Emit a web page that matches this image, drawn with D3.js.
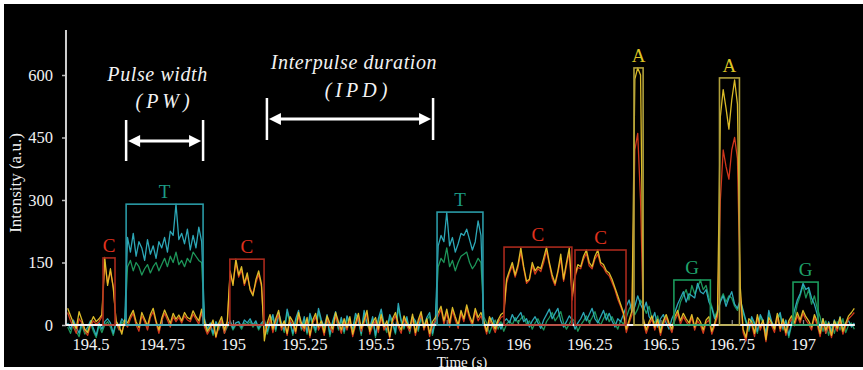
<!DOCTYPE html>
<html>
<head>
<meta charset="utf-8">
<script src="https://cdn.jsdelivr.net/npm/d3@7"></script>
<style>
html, body { margin: 0; padding: 0; background: #fff; }
svg { display: block; }
svg text { font-family: "Liberation Serif", "DejaVu Serif", serif !important; }
</style>
</head>
<body>
<div id="chart"></div>
<script>
const w = 863, h = 370;

// traces sampled every 0.01 s starting at t0
const t0 = 194.42, dt = 0.01;

const yellowTrace = [
	40, 22, 5, -8, 32, 12, -10, -18, 4, 20, 8, 15, 25,
	162, 95, 135, 88,
	8, -2, -22, 12,
	5, 22, 35, 8, -6, 30, 14, -2, 25, 40, 10, -12, 16, 36, 20, 4, 28, 14, 24, 10, 30, 18, 14, 34, 20, 10, 38,
	8, -15, -5, 12, -28, 4, 20, -12, 10,
	130, 95, 158, 120, 140, 100, 125, 84, 70, 108, 130, 98,
	-38, 5, 25, -10, 15, 35, -5, 10, -20, 20, 8, -15, 30, 5, -8, 18, -25, 12, 28, -5,
	10, -18, 22, 4, -10, 30, 8, -12, 15, -6, 20, -22, 5, 28, -8, 12, 35, -15, 6, 18,
	-10, 25, -4, 10, -28, 15, 30, 2, -12, 22, 5, -8, 26, -18, 12, 32, -6, 15, -20, 8, 18,
	30, 45, 10, 38, 5, 42, 20, 0, 35, 15, 48, 22, 5, 40, 18, 30,
	10, -15, 20, 5, -10, 12, 25, 30,
	110, 130, 150, 120, 145, 185, 140, 105, 110, 150, 130, 140, 135, 160, 187, 150, 120, 100, 130, 170, 110, 150, 185,
	70,
	120, 145, 140, 165, 180, 150, 140, 165, 180, 150, 145, 130, 125, 110, 90, 70, 50, 30,
	-10, 12, 35,
	590, 617, 600,
	15, -12, 8, 22, -5, 14, -18, 10, 25, 5, -10,
	20, 35, 10, 28, 15, 5, 25, -5, 18, 8, -12, 12, 20,
	-15, 5, 30,
	500, 565, 520, 470, 540, 588, 530,
	90, -10, -30, 15, 8, -20, 25, -5, 12, -35, 18, 5, -10, 28, -8, 15, -18, 10, 22,
	5, 30, 12, 35, 20, 10, -5, 25, 8,
	-20, 15, -12, 5, -25, 10, -8, 18, -15, 5, 22, 30, 40
];

const redTrace = [
	30, 10, -5, -20, 15, 5, -15, -25, -2, 10, 2, 8, 20,
	150, 100, 128, 92,
	5, -10, -15, 5,
	-5, 15, 28, 0, -15, 22, 8, -12, 18, 32, 5, -20, 10, 28, 12, -5, 20, 8, 18, 5, 22, 12, 8, 26, 14, 2, 30,
	-5, -22, -10, 5, -30, -5, 12, -20, 2,
	125, 100, 150, 115, 132, 95, 118, 88, 75, 100, 122, 92,
	-20, -5, 15, -18, 8, 25, -12, 5, -25, 12, 0, -20, 22, -2, -15, 10, -30, 5, 20, -12,
	2, -25, 15, -5, -18, 22, 0, -20, 8, -12, 12, -28, -2, 20, -15, 5, 28, -22, -2, 10,
	-18, 18, -12, 2, -32, 8, 22, -5, -20, 15, -2, -15, 18, -25, 5, 25, -12, 8, -28, 0, 10,
	22, 38, 2, 30, -5, 35, 12, -8, 28, 8, 40, 15, -2, 32, 10, 22,
	2, -22, 12, -2, -18, 5, 18, 22,
	100, 125, 142, 115, 138, 175, 135, 100, 108, 142, 122, 135, 128, 150, 178, 145, 112, 95, 125, 160, 105, 142, 175,
	60,
	115, 138, 135, 158, 172, 142, 135, 158, 170, 145, 138, 125, 118, 102, 85, 62, 45, 25,
	-18, 5, 25,
	420, 460, 300,
	5, -20, 0, 15, -12, 8, -25, 2, 18, -2, -18,
	12, 28, 2, 20, 8, -2, 18, -12, 10, 0, -20, 5, 12,
	-22, -2, 20,
	300, 420, 380, 350, 420, 450, 400,
	70, -18, -38, 8, 0, -28, 18, -12, 5, -40, 10, -2, -18, 20, -15, 8, -25, 2, 15,
	-2, 22, 5, 28, 12, 2, -12, 18, 0,
	-28, 8, -20, -2, -30, 2, -15, 10, -22, -2, 15, 22, 30
];

const tealTrace = [
	5, -10, 12, -5, -20, 8, -15, -5, 10, -8, -25, 5, -10,
	8, 15, 5, -20,
	10, -5, 15, 5,
	210, 175, 220, 165, 200, 185, 155, 205, 170, 190, 160, 200, 185, 210, 175, 225, 215, 290, 205, 220, 195, 230, 180, 215, 185, 235, 200,
	15, -10, 5, -20, 8, -5, 12, -15, 2,
	10, -8, 5, 8, -5, 12, 5, 15, 0, 10, -8, 5,
	12, -15, 8, 25, -10, 30, 5, -12, 38, 10, -20, 15, 35, -8, 20, -18, 28, 5, -12, 40,
	12, -5, 25, -22, 10, 32, -8, 18, -15, 22, 5, -10, 28, 12, -20, 35, 5, -8, 20, -25,
	15, 38, 2, -12, 25, 8, -18, 52, 12, -5, 20, -15, 20, 10, -10, 25, -5, 18, 30, -20, 12,
	190, 215, 200, 270, 190, 210, 175, 195, 220, 215, 230, 205, 180, 200, 250, 215,
	10, -15, 5, 18, -5, 12, -10, 8,
	15, 5, 25, 10, 20, 30, 8, 15, -5, 10, 20, 5, -8, 12, 25, 38, 15, 28, 40, 10, -5, 8, 22,
	12,
	-10, 5, 15, 30, 10, 25, 40, 15, 5, 20, 35, 12, 28, 10, -5, 15, 8, 25,
	45, 60, 30,
	45, 70, 50,
	35, 55, 20, 10, 30, -5, 15, 25, 5, -10, 15,
	30, 50, 65, 80, 55, 75, 70, 65, 100, 80, 75, 85, 55,
	40, 15, 30,
	55, 70, 45, 65, 80, 50, 40,
	60, 35, 10, -10, 20, 5, -15, 25, 10, -20, 35, 8, -5, 18, 30, -8, 12, -25, 5,
	35, 60, 75, 100, 85, 90, 65, 50, 25,
	-10, 15, -20, 8, -15, 12, -8, 20, -12, 5, 10, -5, 5
];

const greenTrace = [
	-5, -20, 5, -15, -28, 0, -22, -12, 5, -15, -30, -2, -18,
	0, 8, -5, -25,
	5, -12, 8, -2,
	140, 155, 130, 150, 140, 120, 135, 145, 125, 140, 150, 130, 145, 160, 140, 165, 150, 175, 145, 155, 140, 160, 150, 175, 165, 155, 150,
	5, -18, -2, -25, 2, -12, 8, -20, -5,
	5, -12, 0, 2, -10, 5, 0, 8, -5, 5, -12, 0,
	8, -22, 2, 18, -15, 22, 0, -18, 30, 5, -25, 8, 28, -12, 12, -22, 20, 0, -18, 32,
	5, -10, 18, -28, 5, 25, -12, 12, -20, 15, 0, -15, 20, 8, -25, 28, 0, -12, 15, -30,
	10, 30, -2, -18, 18, 2, -22, 40, 8, -10, 15, -20, 15, 5, -15, 18, -10, 12, 22, -25, 8,
	140, 160, 150, 185, 140, 155, 130, 150, 165, 170, 175, 150, 135, 145, 160, 150,
	20, 5, -20, 0, 12, -10, 8, -15,
	2, 10, 0, 18, 5, 15, 22, 2, 10, -10, 5, 15, 0, -12, 8, 18, 30, 10, 20, 32, 5, -10, 2,
	15,
	8, -15, 0, 10, 22, 5, 18, 32, 10, 0, 15, 28, 8, 20, 5, -10, 10, 2,
	18, 38, 50,
	25, 38, 60,
	45, 28, 45, 15, 5, 22, -10, 10, 18, 0, -15,
	10, 25, 55, 70, 85, 60, 95, 75, 90, 108, 85, 95, 65,
	45, 20, 35,
	60, 75, 55, 70, 65, 45, 35,
	55, 30, 5, -15, 15, 0, -20, 20, 5, -25, 28, 2, -10, 12, 25, -12, 8, -30, 0,
	15, 50, 70, 95, 65, 85, 50, 70, 40,
	20, -15, 10, -25, 2, -20, 8, -12, 15, -18, 0, 5, -10
];

// pulses (boxes)
const pulseBase = ["C", "T", "C", "T", "C", "C", "A", "G", "A", "G"];
const pulseStart = [194.544, 194.625, 194.989, 195.716, 195.951, 196.2, 196.407, 196.547, 196.707, 196.965];
const pulseEnd = [194.586, 194.895, 195.109, 195.877, 196.189, 196.379, 196.439, 196.675, 196.777, 197.053];
const pulseTop = [161, 290, 158, 271, 187, 180, 617, 108, 593, 103];

// PW / IPD annotations
const spanTitle = ["Pulse width", "Interpulse duration"];
const spanAbbr = ["(PW)", "(IPD)"];
const spanStart = [194.625, 195.119];
const spanEnd = [194.895, 195.702];

const xTicks = [194.5, 194.75, 195, 195.25, 195.5, 195.75, 196, 196.25, 196.5, 196.75, 197];
const xTickLabels = ["194.5", "194.75", "195", "195.25", "195.5", "195.75", "196", "196.25", "196.5", "196.75", "197"];
const yTicks = [0, 150, 300, 450, 600];
const xExtent = [194.414, 197.182];
const yAxisTop = 708;

const serif = '"Liberation Serif", "DejaVu Serif", serif';
const boxColor = { C: "#a8291c", T: "#2a9aa6", A: "#b0a03c", G: "#1b9a5c" };
const labelColor = { C: "#e2321e", T: "#1c9c84", A: "#dcc424", G: "#1fa46c" };

const svg = d3
	.select("#chart")
	.append("svg")
	.attr("width", w)
	.attr("height", h)
	.attr("font-family", serif);

svg.append("rect").attr("x", 4).attr("y", 4).attr("width", w - 4).attr("height", h - 7).attr("fill", "#000");

const xScale = d3.scaleLinear().domain([194.5, 197]).range([90.5, 803]);
const yScale = d3.scaleLinear().domain([0, 600]).range([325, 75]);

// y axis
const yAxisG = svg
	.append("g")
	.attr("transform", `translate(${xScale(xExtent[0])}, 0)`)
	.call(d3.axisLeft(yScale).tickValues(yTicks).tickSize(4).tickPadding(9))
	.attr("font-family", serif)
	.attr("font-size", 16.5);
yAxisG.select(".domain").remove();
yAxisG.selectAll(".tick line").attr("stroke", "#bbb").attr("stroke-width", 1.5);
yAxisG.selectAll(".tick text").attr("fill", "#f2f2f2");
svg.append("line")
	.attr("x1", xScale(xExtent[0])).attr("x2", xScale(xExtent[0]))
	.attr("y1", yScale(0)).attr("y2", yScale(yAxisTop))
	.attr("stroke", "#cfcfcf").attr("stroke-width", 2);

// x axis
const xAxisG = svg
	.append("g")
	.attr("transform", `translate(0, ${yScale(0)})`)
	.call(d3.axisBottom(xScale).tickValues(xTicks).tickFormat((d, i) => xTickLabels[i]).tickSize(-5).tickPadding(13))
	.attr("font-family", serif)
	.attr("font-size", 16.5);
xAxisG.select(".domain").remove();
xAxisG.selectAll(".tick line").attr("stroke", "#888").attr("stroke-width", 1.2);
xAxisG.selectAll(".tick text").attr("fill", "#f2f2f2");

// traces
const line = d3
	.line()
	.x((d, i) => xScale(t0 + i * dt))
	.y((d) => yScale(d));

const traces = [
	{ values: greenTrace, color: "#1f9d5e" },
	{ values: tealTrace, color: "#2eb0c0" },
	{ values: redTrace, color: "#dc3a1e" },
	{ values: yellowTrace, color: "#e6c42a" }
];
svg.append("g")
	.selectAll("path")
	.data(traces)
	.join("path")
	.attr("d", (d) => line(d.values))
	.attr("fill", "none")
	.attr("stroke", (d) => d.color)
	.attr("stroke-width", 1.3)
	.attr("stroke-linejoin", "round")
	.attr("opacity", 0.95);

// zero line
svg.append("line")
	.attr("x1", xScale(xExtent[0])).attr("x2", xScale(xExtent[1]))
	.attr("y1", yScale(0)).attr("y2", yScale(0))
	.attr("stroke", "#f4f4f4").attr("stroke-width", 2);

// pulse boxes
const pulses = pulseBase.map((b, i) => ({ base: b, start: pulseStart[i], end: pulseEnd[i], top: pulseTop[i] }));
const pulseG = svg.append("g");
pulseG.selectAll("rect")
	.data(pulses)
	.join("rect")
	.attr("x", (d) => xScale(d.start))
	.attr("y", (d) => yScale(d.top))
	.attr("width", (d) => xScale(d.end) - xScale(d.start))
	.attr("height", (d) => yScale(0) - yScale(d.top))
	.attr("fill", "none")
	.attr("stroke", (d) => boxColor[d.base])
	.attr("stroke-width", 1.6);
pulseG.selectAll("text")
	.data(pulses)
	.join("text")
	.attr("x", (d) => (xScale(d.start) + xScale(d.end)) / 2)
	.attr("y", (d) => yScale(d.top) - 6)
	.attr("text-anchor", "middle")
	.attr("fill", (d) => labelColor[d.base])
	.attr("font-size", 19)
	.text((d) => d.base);

// annotations
const spanLayout = [
	{ arrowY: 141, barTop: 120, barBottom: 161, titleY: 81, abbrY: 108, titleDx: -7, abbrDx: 0 },
	{ arrowY: 119, barTop: 98, barBottom: 140, titleY: 69, abbrY: 97, titleDx: 4, abbrDx: 8 }
];
spanTitle.forEach((title, i) => {
	const L = spanLayout[i];
	const x1 = xScale(spanStart[i]);
	const x2 = xScale(spanEnd[i]);
	const cx = (x1 + x2) / 2;
	const g = svg.append("g").attr("fill", "#fff").attr("stroke", "#fff");
	g.append("line").attr("x1", x1).attr("x2", x1).attr("y1", L.barTop).attr("y2", L.barBottom).attr("stroke-width", 2.5);
	g.append("line").attr("x1", x2).attr("x2", x2).attr("y1", L.barTop).attr("y2", L.barBottom).attr("stroke-width", 2.5);
	g.append("line").attr("x1", x1 + 10).attr("x2", x2 - 10).attr("y1", L.arrowY).attr("y2", L.arrowY).attr("stroke-width", 3);
	g.append("path")
		.attr("d", `M${x1 + 2},${L.arrowY}L${x1 + 14},${L.arrowY - 6}L${x1 + 14},${L.arrowY + 6}Z`)
		.attr("stroke", "none");
	g.append("path")
		.attr("d", `M${x2 - 2},${L.arrowY}L${x2 - 14},${L.arrowY - 6}L${x2 - 14},${L.arrowY + 6}Z`)
		.attr("stroke", "none");
	svg.append("text")
		.attr("x", cx + L.titleDx).attr("y", L.titleY)
		.attr("text-anchor", "middle").attr("fill", "#f2f2f2")
		.attr("font-size", 20).attr("font-style", "italic").attr("letter-spacing", 0.6)
		.text(title);
	svg.append("text")
		.attr("x", cx + L.abbrDx).attr("y", L.abbrY)
		.attr("text-anchor", "middle").attr("fill", "#f2f2f2")
		.attr("font-size", 20).attr("font-style", "italic").attr("letter-spacing", 4)
		.text(spanAbbr[i]);
});

// axis titles
svg.append("text")
	.attr("x", 462).attr("y", 367)
	.attr("text-anchor", "middle").attr("fill", "#f2f2f2")
	.attr("font-size", 15)
	.text("Time (s)");
svg.append("text")
	.attr("transform", "translate(21, 183) rotate(-90)")
	.attr("text-anchor", "middle").attr("fill", "#f2f2f2")
	.attr("font-size", 17)
	.text("Intensity (a.u.)");
</script>
</body>
</html>
